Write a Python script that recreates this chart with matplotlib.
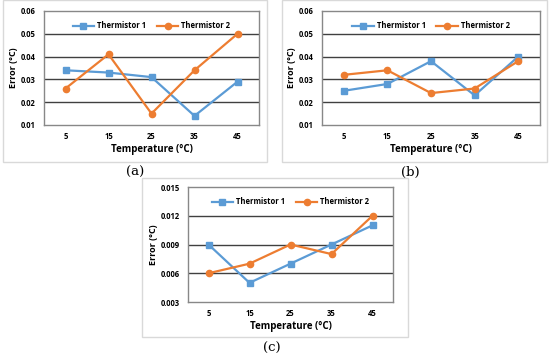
import matplotlib
matplotlib.use("Agg")
import matplotlib.pyplot as plt
from matplotlib.patches import Rectangle

W, H = 550, 357

temps = ["5", "15", "25", "35", "45"]
series_names = ["Thermistor 1", "Thermistor 2"]

a_t1 = [0.034, 0.033, 0.031, 0.014, 0.029]
a_t2 = [0.026, 0.041, 0.015, 0.034, 0.050]
b_t1 = [0.025, 0.028, 0.038, 0.023, 0.040]
b_t2 = [0.032, 0.034, 0.024, 0.026, 0.038]
c_t1 = [0.009, 0.005, 0.007, 0.009, 0.011]
c_t2 = [0.006, 0.007, 0.009, 0.008, 0.012]

ab_ticks = [0.01, 0.02, 0.03, 0.04, 0.05, 0.06]
c_ticks = [0.003, 0.006, 0.009, 0.012, 0.015]

BLUE = "#5B9BD5"
ORANGE = "#ED7D31"
FONT = "Open Sans"

fig = plt.figure(figsize=(W / 100, H / 100), dpi=100)


def px_axes(left, top, right, bottom):
    return fig.add_axes([left / W, 1 - bottom / H, (right - left) / W, (bottom - top) / H])


def panel_box(left, top, right, bottom):
    fig.patches.append(Rectangle((left / W, 1 - bottom / H), (right - left) / W,
                                 (bottom - top) / H, transform=fig.transFigure,
                                 fill=False, edgecolor="#d9d9d9", linewidth=1.0))


def draw_panel(ax, t1, t2, ticks, fmt):
    x = range(len(temps))
    ax.plot(x, t1, color=BLUE, marker="s", markersize=4.5, linewidth=1.6,
            label=series_names[0])
    ax.plot(x, t2, color=ORANGE, marker="o", markersize=4.5, linewidth=1.6,
            label=series_names[1])
    ax.set_xlim(-0.5, len(temps) - 0.5)
    ax.set_ylim(ticks[0], ticks[-1])
    ax.set_xticks(list(x))
    ax.set_xticklabels(temps, fontsize=5.5, fontweight="bold", family=FONT)
    ax.set_yticks(ticks)
    ax.set_yticklabels([fmt.format(t) for t in ticks], fontsize=5.5,
                       fontweight="bold", family=FONT)
    ax.tick_params(axis="y", length=0, pad=6)
    ax.tick_params(axis="x", length=0, pad=5)
    for t in ticks[1:-1]:
        ax.axhline(t, color="#404040", linewidth=1.0, zorder=0)
    for s in ax.spines.values():
        s.set_color("#888888")
        s.set_linewidth(1.0)
    ax.set_xlabel("Temperature (°C)", fontsize=7, fontweight="bold",
                  family=FONT, labelpad=2)
    ax.set_ylabel("Error (°C)", fontsize=6.5, fontweight="bold", family=FONT,
                  labelpad=2)
    ax.legend(loc="upper center", ncol=2, frameon=False,
              prop={"family": FONT, "weight": "bold", "size": 5.5},
              bbox_to_anchor=(0.5, 0.97), handlelength=2.8,
              columnspacing=1.4, handletextpad=0.4)


panel_box(3, 0, 267, 162)
panel_box(282, 0, 547, 162)
panel_box(142, 178, 408, 337)

ax_a = px_axes(44, 11, 259, 125)
draw_panel(ax_a, a_t1, a_t2, ab_ticks, "{:.2f}")
ax_b = px_axes(322, 11, 540, 125)
draw_panel(ax_b, b_t1, b_t2, ab_ticks, "{:.2f}")
ax_c = px_axes(188, 187, 393, 302)
draw_panel(ax_c, c_t1, c_t2, c_ticks, "{:.3f}")

for label, cx, cy in [("(a)", 135, 172), ("(b)", 410, 172), ("(c)", 272, 348)]:
    fig.text(cx / W, 1 - cy / H, label, ha="center", va="center",
             fontsize=9.5, family="DejaVu Serif")

fig.savefig("out.png", dpi=100)
